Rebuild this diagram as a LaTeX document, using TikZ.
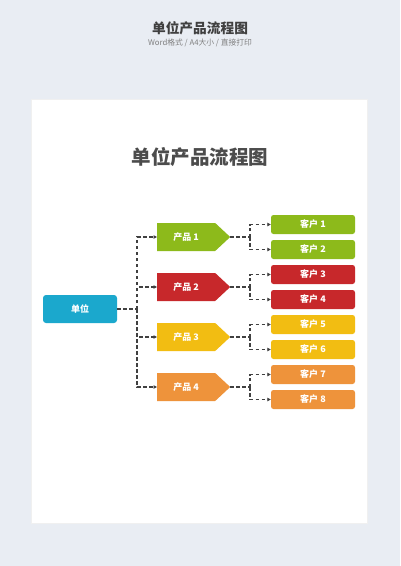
\documentclass[tikz,border=0pt]{standalone}
\usepackage{fontspec}
\setmainfont{Noto Sans CJK SC}
\usetikzlibrary{shapes.symbols,arrows.meta}
\definecolor{bg}{HTML}{E9EDF3}
\definecolor{unitc}{HTML}{1BA8CD}
\definecolor{gc}{HTML}{8DBA1B}
\definecolor{rc}{HTML}{C7282B}
\definecolor{yc}{HTML}{F2BD12}
\definecolor{oc}{HTML}{EE933B}
\definecolor{linec}{HTML}{404040}
\tikzset{
  boxfont/.style={text=white,font=\fontsize{9}{11}\selectfont\bfseries},
  unitbox/.style={fill=unitc,rounded corners=3pt,minimum width=74pt,minimum height=28pt,inner sep=0pt,boxfont},
  prodbox/.style={shape=signal,signal to=east,signal pointer angle=86,fill=#1,minimum width=73pt,minimum height=28pt,inner sep=0pt,anchor=west,boxfont},
  custbox/.style={fill=#1,rounded corners=2.5pt,minimum width=84pt,minimum height=19pt,inner sep=0pt,boxfont},
  conn/.style={draw=linec,line width=1.25pt,dash pattern=on 3.5pt off 2.5pt},
  arr/.style={conn,-{Triangle[length=3.5pt,width=3.5pt]}}
}
\begin{document}
\begin{tikzpicture}[x=1pt,y=-1pt]
\fill[bg] (0,0) rectangle (400,566);
\useasboundingbox (0,0) rectangle (400,566);
\fill[black!6] (31,99) rectangle (368,524);
\fill[white] (32,100) rectangle (367,523);
\node[font=\fontsize{13.7}{15}\selectfont\bfseries,text=black!75] (hdr) at (200,28) {单位产品流程图};
\node[font=\fontsize{7.8}{9}\selectfont,text=black!50] (sub) at (200,43) {Word格式 / A4大小 / 直接打印};
\node[font=\fontsize{19.5}{22}\selectfont\bfseries,text=black!70] (ttl) at (200,157) {单位产品流程图};
\node[unitbox] (unit) at (80,309) {单位};
\node[prodbox=gc] (p1) at (157,237) {产品 1};
\node[prodbox=rc] (p2) at (157,287) {产品 2};
\node[prodbox=yc] (p3) at (157,337) {产品 3};
\node[prodbox=oc] (p4) at (157,387) {产品 4};
\node[custbox=gc] (c1) at (313,224.5) {客户 1};
\node[custbox=gc] (c2) at (313,249.5) {客户 2};
\node[custbox=rc] (c3) at (313,274.5) {客户 3};
\node[custbox=rc] (c4) at (313,299.5) {客户 4};
\node[custbox=yc] (c5) at (313,324.5) {客户 5};
\node[custbox=yc] (c6) at (313,349.5) {客户 6};
\node[custbox=oc] (c7) at (313,374.5) {客户 7};
\node[custbox=oc] (c8) at (313,399.5) {客户 8};
\coordinate (j0) at (137,309);
\draw[conn] (unit.east) -- (j0);
\foreach \p in {p1,p2,p3,p4} \draw[arr] (j0) |- (\p.west);
\coordinate (j1) at (250,237);
\coordinate (j2) at (250,287);
\coordinate (j3) at (250,337);
\coordinate (j4) at (250,387);
\draw[conn] (p1.east) -- (j1); \draw[arr] (j1) |- (c1.west); \draw[arr] (j1) |- (c2.west);
\draw[conn] (p2.east) -- (j2); \draw[arr] (j2) |- (c3.west); \draw[arr] (j2) |- (c4.west);
\draw[conn] (p3.east) -- (j3); \draw[arr] (j3) |- (c5.west); \draw[arr] (j3) |- (c6.west);
\draw[conn] (p4.east) -- (j4); \draw[arr] (j4) |- (c7.west); \draw[arr] (j4) |- (c8.west);
\end{tikzpicture}
\end{document}
